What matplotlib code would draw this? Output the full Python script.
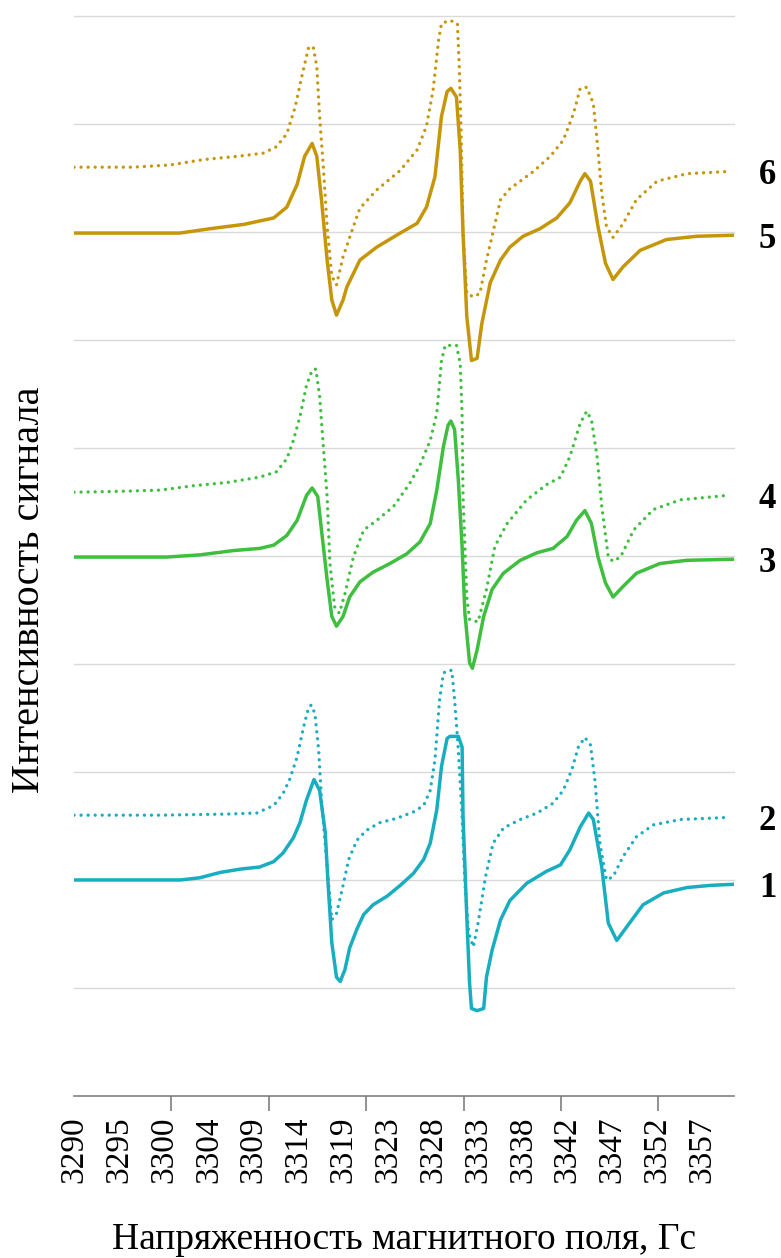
import matplotlib
matplotlib.use("Agg")
import matplotlib.pyplot as plt
import numpy as np
from matplotlib.ticker import FixedLocator, NullFormatter

# ---- data: EPR spectra (field in G, signal intensity in arbitrary grid units) ----
tick_labels = ["3290", "3295", "3300", "3304", "3309", "3314", "3319", "3323",
               "3328", "3333", "3338", "3342", "3347", "3352", "3357"]

field_1 = [3290.0, 3301.3, 3303.4, 3305.6, 3307.7, 3309.8, 3311.3, 3312.3, 3313.4, 3314.1,
           3314.8, 3315.6, 3316.2, 3316.8, 3317.1, 3317.5, 3318.0, 3318.4, 3318.9, 3319.4,
           3320.2, 3320.9, 3321.9, 3323.4, 3324.8, 3326.2, 3327.3, 3328.0, 3328.7, 3329.2,
           3329.8, 3330.1, 3331.0, 3331.4, 3331.5, 3331.9, 3332.2, 3332.4, 3333.0, 3333.7,
           3334.0, 3334.6, 3335.5, 3336.5, 3338.3, 3340.4, 3341.9, 3342.9, 3344.0, 3344.9,
           3345.4, 3346.3, 3347.0, 3347.9, 3349.0, 3350.7, 3352.9, 3355.4, 3357.9, 3360.4]
signal_1 = [2.00, 2.00, 2.02, 2.07, 2.10, 2.12, 2.17, 2.25, 2.39, 2.53,
            2.74, 2.93, 2.83, 2.44, 1.97, 1.42, 1.10, 1.06, 1.17, 1.37,
            1.55, 1.68, 1.77, 1.85, 1.95, 2.06, 2.19, 2.34, 2.65, 3.05,
            3.31, 3.33, 3.33, 3.23, 2.59, 1.66, 1.04, 0.81, 0.79, 0.81,
            1.10, 1.35, 1.63, 1.81, 1.97, 2.08, 2.14, 2.28, 2.49, 2.62,
            2.56, 2.12, 1.60, 1.44, 1.57, 1.77, 1.88, 1.93, 1.95, 1.96]

field_2 = [3290.0, 3299.2, 3306.3, 3309.5, 3311.3, 3312.3, 3313.0, 3313.8, 3314.5, 3315.0,
           3315.3, 3315.7, 3316.1, 3316.4, 3317.0, 3317.5, 3318.0, 3318.6, 3319.3, 3320.2,
           3321.2, 3322.6, 3324.4, 3326.2, 3327.3, 3328.0, 3328.5, 3329.0, 3329.4, 3329.6,
           3329.9, 3330.3, 3330.6, 3331.0, 3331.4, 3331.7, 3332.1, 3332.6, 3333.1, 3333.9,
           3334.7, 3335.8, 3337.6, 3339.4, 3341.1, 3342.2, 3343.1, 3343.8, 3344.5, 3345.1,
           3345.6, 3346.1, 3346.8, 3347.5, 3348.6, 3350.0, 3351.8, 3354.7, 3360.0]
signal_2 = [2.60, 2.60, 2.61, 2.62, 2.69, 2.80, 2.93, 3.14, 3.42, 3.59,
            3.62, 3.54, 3.20, 2.74, 2.12, 1.63, 1.69, 1.91, 2.19, 2.37,
            2.46, 2.53, 2.57, 2.63, 2.69, 2.83, 3.11, 3.67, 3.91, 3.93,
            3.94, 3.94, 3.67, 3.20, 2.59, 1.97, 1.51, 1.38, 1.60, 2.03,
            2.34, 2.48, 2.56, 2.62, 2.71, 2.83, 3.02, 3.23, 3.32, 3.25,
            2.90, 2.34, 2.00, 2.03, 2.22, 2.40, 2.51, 2.56, 2.58]

field_3 = [3290.0, 3299.9, 3303.4, 3307.0, 3309.8, 3311.3, 3312.7, 3313.8, 3314.8, 3315.4,
           3316.0, 3316.4, 3317.0, 3317.5, 3318.0, 3318.7, 3319.4, 3320.5, 3321.9, 3323.7,
           3325.5, 3326.9, 3328.0, 3328.7, 3329.4, 3329.9, 3330.2, 3330.6, 3331.0, 3331.4,
           3331.7, 3332.2, 3332.5, 3333.0, 3333.7, 3334.6, 3335.8, 3337.6, 3339.4, 3341.1,
           3342.6, 3343.6, 3344.5, 3345.2, 3345.9, 3346.7, 3347.5, 3348.6, 3350.0, 3352.5,
           3355.4, 3360.4]
signal_3 = [4.99, 4.99, 5.01, 5.05, 5.07, 5.10, 5.19, 5.33, 5.56, 5.63,
            5.55, 5.24, 4.78, 4.44, 4.35, 4.44, 4.62, 4.76, 4.85, 4.93,
            5.02, 5.13, 5.30, 5.61, 6.01, 6.21, 6.25, 6.17, 5.70, 5.09,
            4.47, 4.01, 3.96, 4.13, 4.44, 4.69, 4.84, 4.96, 5.03, 5.07,
            5.18, 5.33, 5.42, 5.30, 4.99, 4.75, 4.62, 4.72, 4.84, 4.93,
            4.96, 4.97]

field_4 = [3290.0, 3295.6, 3299.2, 3302.7, 3306.3, 3309.8, 3311.6, 3312.7, 3313.4, 3314.1,
           3314.8, 3315.4, 3315.8, 3316.2, 3316.6, 3317.0, 3317.3, 3317.8, 3318.3, 3318.9,
           3319.8, 3320.9, 3322.3, 3324.1, 3325.8, 3326.9, 3328.0, 3328.7, 3329.2, 3329.6,
           3330.8, 3331.2, 3331.4, 3331.5, 3331.9, 3332.2, 3333.1, 3334.0, 3334.9, 3336.2,
           3338.3, 3340.4, 3341.9, 3342.9, 3344.0, 3344.7, 3345.2, 3345.8, 3346.3, 3347.0,
           3347.5, 3348.3, 3349.7, 3351.8, 3354.7, 3359.6]
signal_4 = [5.59, 5.60, 5.61, 5.65, 5.68, 5.73, 5.78, 5.90, 6.07, 6.29,
            6.58, 6.72, 6.73, 6.48, 6.01, 5.55, 4.93, 4.53, 4.47, 4.65,
            4.99, 5.24, 5.33, 5.46, 5.67, 5.84, 6.07, 6.32, 6.81, 6.95,
            6.95, 6.78, 6.32, 5.55, 4.62, 4.41, 4.39, 4.69, 5.09, 5.30,
            5.52, 5.66, 5.73, 5.92, 6.23, 6.34, 6.26, 5.92, 5.46, 4.99,
            4.95, 4.99, 5.24, 5.43, 5.52, 5.56]

field_5 = [3290.0, 3301.3, 3304.5, 3308.1, 3311.3, 3312.7, 3313.8, 3314.6, 3315.4, 3315.9,
           3316.4, 3317.0, 3317.5, 3318.0, 3318.7, 3319.1, 3320.5, 3322.3, 3324.8, 3326.6,
           3327.6, 3328.5, 3329.2, 3329.8, 3330.2, 3330.8, 3331.2, 3331.5, 3331.9, 3332.4,
           3333.0, 3333.5, 3334.4, 3335.5, 3336.5, 3337.9, 3339.7, 3341.5, 3342.9, 3344.0,
           3344.5, 3345.1, 3345.9, 3346.7, 3347.5, 3348.6, 3350.4, 3353.2, 3356.4, 3360.4]
signal_5 = [7.99, 7.99, 8.03, 8.07, 8.13, 8.23, 8.44, 8.70, 8.82, 8.70,
            8.30, 7.74, 7.37, 7.23, 7.37, 7.49, 7.74, 7.86, 7.99, 8.08,
            8.23, 8.51, 9.07, 9.30, 9.33, 9.25, 8.76, 7.99, 7.22, 6.81,
            6.83, 7.15, 7.53, 7.74, 7.86, 7.96, 8.03, 8.13, 8.27, 8.47,
            8.54, 8.47, 8.05, 7.71, 7.56, 7.68, 7.83, 7.93, 7.96, 7.97]

field_6 = [3290.0, 3296.3, 3300.2, 3303.8, 3307.4, 3310.2, 3311.6, 3312.7, 3313.6, 3314.3,
           3315.0, 3315.5, 3315.9, 3316.2, 3316.6, 3317.0, 3317.5, 3318.0, 3318.7, 3319.8,
           3320.5, 3322.3, 3324.8, 3326.6, 3327.6, 3328.3, 3328.9, 3329.2, 3330.1, 3330.9,
           3331.1, 3331.3, 3331.5, 3331.9, 3332.6, 3333.3, 3334.0, 3334.7, 3335.5, 3336.5,
           3339.0, 3340.8, 3342.2, 3343.3, 3344.0, 3344.7, 3345.4, 3345.8, 3346.3, 3346.8,
           3347.5, 3348.6, 3350.0, 3352.2, 3355.4, 3359.8]
signal_6 = [8.60, 8.60, 8.62, 8.67, 8.70, 8.73, 8.79, 8.91, 9.16, 9.44,
            9.70, 9.72, 9.53, 9.07, 8.60, 8.05, 7.59, 7.51, 7.77, 8.05,
            8.22, 8.39, 8.57, 8.76, 8.98, 9.31, 9.78, 9.93, 9.96, 9.93,
            9.53, 8.91, 7.99, 7.43, 7.40, 7.43, 7.74, 8.00, 8.30, 8.40,
            8.56, 8.70, 8.85, 9.10, 9.33, 9.34, 9.19, 8.85, 8.36, 8.05,
            7.95, 8.08, 8.30, 8.47, 8.54, 8.56]

series_names = ["1", "2", "3", "4", "5", "6"]

# ---- styling ----
GOLD = "#C6960A"
GREEN = "#3FBF3F"
TEAL = "#18AEC0"
plt.rcParams["font.family"] = ["Liberation Serif", "DejaVu Serif"]

fig = plt.figure(figsize=(7.81, 12.58), dpi=100)
ax = fig.add_axes([0.0948, 0.1288, 0.8451, 0.8585])

ax.set_xlim(3290, 3290 + 660 / 9.373)
ax.set_ylim(0, 10)

# horizontal gridlines
for g in range(1, 11):
    ax.axhline(g, color="#D9D9D9", lw=1.0, zorder=0, clip_on=False)

solid = dict(lw=2.5, solid_capstyle="round", solid_joinstyle="round")
dotted = dict(lw=2.4, linestyle=(0, (0.01, 2.1)), dash_capstyle="round")

curves = [
    (field_1, signal_1, TEAL, solid),
    (field_2, signal_2, TEAL, dotted),
    (field_3, signal_3, GREEN, solid),
    (field_4, signal_4, GREEN, dotted),
    (field_5, signal_5, GOLD, solid),
    (field_6, signal_6, GOLD, dotted),
]
for (fx, sy, col, sty), name in zip(curves, series_names):
    ax.plot(fx, sy, color=col, zorder=3, **sty)
    ax.text(3364.0, sy[-1] - 0.04, name, fontsize=25, fontweight="bold",
            ha="center", va="center", clip_on=False)

# axes decoration
for side in ("left", "right", "top"):
    ax.spines[side].set_visible(False)
ax.spines["bottom"].set_color("#7F7F7F")
ax.spines["bottom"].set_linewidth(1.2)
ax.set_yticks([])

label_pos = np.linspace(3290, 3357, len(tick_labels))
ax.xaxis.set_major_locator(FixedLocator(label_pos))
ax.set_xticklabels(tick_labels, rotation=90, fontsize=24)
ax.tick_params(axis="x", which="major", length=0, pad=15)
ax.xaxis.set_minor_locator(FixedLocator(np.arange(3290, 3360, 10.39)))
ax.xaxis.set_minor_formatter(NullFormatter())
ax.tick_params(axis="x", which="minor", length=11, width=1.2, color="#7F7F7F")

ax.set_xlabel("Напряженность магнитного поля, Гс", fontsize=27, labelpad=28)
ax.set_ylabel("Интенсивность сигнала", fontsize=29)
ax.yaxis.set_label_coords(-0.039, 0.4685)

fig.savefig("out.png", dpi=100)
